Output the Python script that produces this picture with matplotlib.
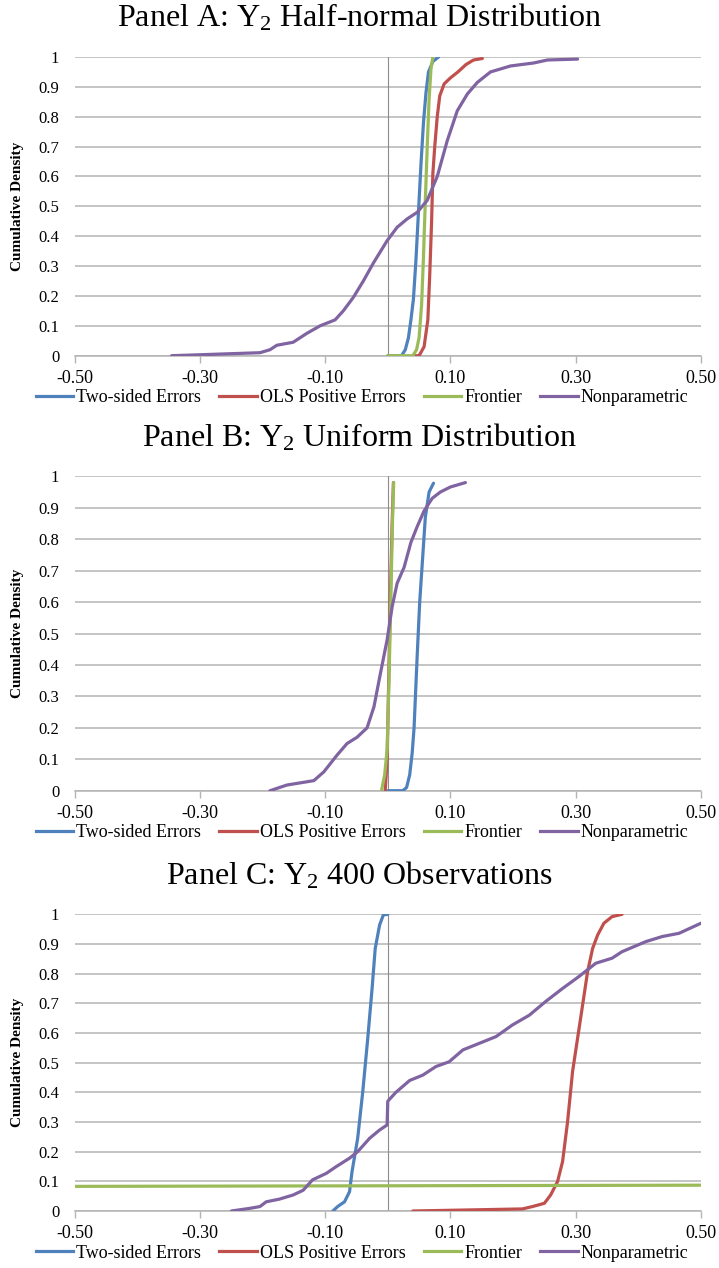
import matplotlib
matplotlib.use("Agg")
import matplotlib.pyplot as plt
from matplotlib.lines import Line2D

# ---- data -------------------------------------------------------------
series_names = ["Two-sided Errors", "OLS Positive Errors", "Frontier", "Nonparametric"]
series_colors = ["#4F81BD", "#C0504D", "#9BBB59", "#8064A2"]
x_ticks = [-0.50, -0.30, -0.10, 0.10, 0.30, 0.50]
y_ticks = [0, 0.1, 0.2, 0.3, 0.4, 0.5, 0.6, 0.7, 0.8, 0.9, 1]
panel_titles = [
    r"Panel A: Y$_2$ Half-normal Distribution",
    r"Panel B: Y$_2$ Uniform Distribution",
    r"Panel C: Y$_2$ 400 Observations",
]

# Panel A: half-normal
a_two_x = [0.000, 0.022, 0.028, 0.033, 0.037, 0.041, 0.045, 0.049, 0.053, 0.057, 0.061, 0.065, 0.072, 0.081]
a_two_y = [0, 0, 0.02, 0.06, 0.12, 0.19, 0.32, 0.48, 0.64, 0.78, 0.88, 0.95, 0.985, 1.0]
a_ols_x = [0.041, 0.050, 0.058, 0.064, 0.067, 0.070, 0.072, 0.075, 0.079, 0.083, 0.090, 0.100, 0.112, 0.125, 0.137, 0.151]
a_ols_y = [0, 0, 0.03, 0.12, 0.27, 0.45, 0.61, 0.70, 0.80, 0.87, 0.91, 0.93, 0.95, 0.975, 0.99, 0.995]
a_fro_x = [0.000, 0.040, 0.046, 0.050, 0.054, 0.057, 0.060, 0.063, 0.066, 0.069, 0.072]
a_fro_y = [0, 0, 0.02, 0.06, 0.17, 0.33, 0.52, 0.70, 0.86, 0.96, 1.0]
a_np_x = [-0.345, -0.204, -0.188, -0.177, -0.151, -0.129, -0.108, -0.084, -0.071, -0.055, -0.039,
          -0.023, -0.001, 0.015, 0.031, 0.047, 0.063, 0.079, 0.095, 0.111, 0.127, 0.143, 0.164,
          0.196, 0.233, 0.255, 0.303]
a_np_y = [0, 0.01, 0.02, 0.035, 0.045, 0.075, 0.10, 0.12, 0.15, 0.195, 0.25, 0.31, 0.385, 0.43,
          0.458, 0.48, 0.52, 0.60, 0.72, 0.82, 0.876, 0.915, 0.95, 0.97, 0.98, 0.99, 0.993]

# Panel B: uniform
b_two_x = [0.000, 0.024, 0.030, 0.035, 0.039, 0.042, 0.047, 0.051, 0.055, 0.060, 0.066, 0.073]
b_two_y = [0, 0, 0.01, 0.05, 0.12, 0.20, 0.43, 0.60, 0.72, 0.87, 0.95, 0.978]
b_ols_x = [-0.004, -0.001, 0.001, 0.004, 0.007, 0.009]
b_ols_y = [0, 0.10, 0.30, 0.60, 0.85, 0.98]
b_fro_x = [-0.010, -0.005, -0.001, 0.002, 0.005, 0.0075, 0.0095]
b_fro_y = [0, 0.05, 0.13, 0.35, 0.62, 0.85, 0.98]
b_np_x = [-0.188, -0.161, -0.118, -0.102, -0.081, -0.065, -0.049, -0.033, -0.022, -0.012, -0.001,
          0.007, 0.015, 0.026, 0.037, 0.047, 0.058, 0.071, 0.084, 0.100, 0.124]
b_np_y = [0, 0.018, 0.032, 0.06, 0.113, 0.15, 0.17, 0.20, 0.267, 0.37, 0.48, 0.585, 0.66, 0.71,
          0.79, 0.84, 0.89, 0.93, 0.95, 0.966, 0.98]

# Panel C: 400 observations
c_two_x = [-0.0876, -0.080, -0.069, -0.061, -0.057, -0.048, -0.040, -0.032, -0.025, -0.020,
           -0.013, -0.007, 0.000]
c_two_y = [0, 0.015, 0.031, 0.065, 0.133, 0.245, 0.40, 0.58, 0.75, 0.885, 0.964, 0.998, 1.0]
c_ols_x = [0.040, 0.215, 0.231, 0.250, 0.260, 0.271, 0.279, 0.287, 0.295, 0.303, 0.311, 0.319,
           0.327, 0.335, 0.345, 0.358, 0.374]
c_ols_y = [0, 0.007, 0.015, 0.026, 0.054, 0.099, 0.166, 0.30, 0.47, 0.582, 0.694, 0.807, 0.885,
           0.93, 0.97, 0.992, 1.0]
c_fro_x = [-0.50, 0.50]
c_fro_y = [0.083, 0.087]
c_np_x = [-0.2495, -0.220, -0.204, -0.194, -0.173, -0.151, -0.135, -0.120, -0.098, -0.082, -0.061,
          -0.048, -0.029, -0.013, -0.001, 0.000, 0.013, 0.035, 0.056, 0.077, 0.098, 0.120, 0.146,
          0.173, 0.199, 0.226, 0.252, 0.279, 0.305, 0.332, 0.358, 0.374, 0.412, 0.438, 0.465, 0.500]
c_np_y = [0, 0.009, 0.015, 0.031, 0.04, 0.054, 0.07, 0.105, 0.127, 0.15, 0.178, 0.20, 0.245, 0.273,
          0.29, 0.37, 0.40, 0.44, 0.458, 0.487, 0.503, 0.543, 0.565, 0.588, 0.627, 0.66, 0.706,
          0.75, 0.79, 0.835, 0.852, 0.874, 0.908, 0.925, 0.936, 0.97]

panels = [
    [(a_two_x, a_two_y), (a_ols_x, a_ols_y), (a_fro_x, a_fro_y), (a_np_x, a_np_y)],
    [(b_two_x, b_two_y), (b_ols_x, b_ols_y), (b_fro_x, b_fro_y), (b_np_x, b_np_y)],
    [(c_two_x, c_two_y), (c_ols_x, c_ols_y), (c_fro_x, c_fro_y), (c_np_x, c_np_y)],
]

# ---- style ------------------------------------------------------------
plt.rcParams["font.family"] = ["Liberation Serif", "DejaVu Serif"]
plt.rcParams["mathtext.fontset"] = "custom"
plt.rcParams["mathtext.rm"] = "Liberation Serif"
plt.rcParams["mathtext.it"] = "Liberation Serif:italic"
plt.rcParams["mathtext.bf"] = "Liberation Serif:bold"

W, H = 719, 1268
fig = plt.figure(figsize=(W / 100, H / 100), dpi=100)
fig.patch.set_facecolor("white")

GRID = "#B4B4B4"
left_px, right_px = 74.5, 701
panel_boxes = [(57, 355.7), (476.3, 790.7), (914.3, 1211)]

for idx, ((top, bottom), series, title) in enumerate(zip(panel_boxes, panels, panel_titles)):
    ax = fig.add_axes([left_px / W, 1 - bottom / H, (right_px - left_px) / W, (bottom - top) / H])
    ax.set_xlim(-0.5, 0.5)
    ax.set_ylim(0, 1)

    for s in ["top", "right", "left"]:
        ax.spines[s].set_visible(False)
    ax.spines["bottom"].set_color(GRID)
    ax.spines["bottom"].set_linewidth(1.1)

    ax.set_yticks(y_ticks)
    ax.set_yticklabels([("%g" % v) for v in y_ticks])
    ax.set_xticks(x_ticks)
    ax.set_xticklabels(["%.2f" % v for v in x_ticks])
    ax.tick_params(axis="x", direction="out", length=5, width=1, color=GRID,
                   labelsize=13, pad=5)
    ax.tick_params(axis="y", length=0, labelsize=12, pad=11)
    ax.yaxis.grid(True, color=GRID, linewidth=1.1)
    ax.set_axisbelow(True)

    # value axis drawn at x = 0
    ax.axvline(0, color="#8C8C8C", linewidth=0.8, zorder=1)

    for (xs, ys), name, col in zip(series, series_names, series_colors):
        ax.plot(xs, ys, color=col, linewidth=2.3, solid_capstyle="round", label=name, zorder=3)

    fig.text(359.5 / W, 1 - (top - 39) / H, title, ha="center", va="center", fontsize=23)
    fig.text(18 / W, 1 - (top + bottom) / 2 / H, "Cumulative Density", rotation=90,
             ha="center", va="center", fontsize=11, fontweight="bold")

    handles = [Line2D([], [], color=c, linewidth=2.3) for c in series_colors]
    fig.legend(handles, series_names, loc="center", ncol=4, frameon=False,
               bbox_to_anchor=(362 / W, 1 - (bottom + 42) / H), fontsize=13,
               handlelength=2.1, handletextpad=0.15, columnspacing=1.0, borderpad=0)

fig.savefig("out.png", dpi=100, facecolor="white")
